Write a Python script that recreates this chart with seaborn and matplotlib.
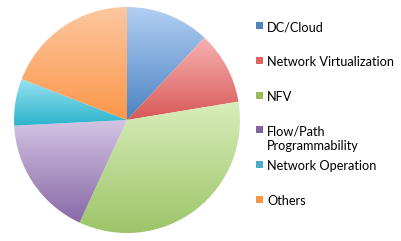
import numpy as np
import matplotlib
matplotlib.use("Agg")
import matplotlib.pyplot as plt
import seaborn as sns
from matplotlib.colors import LinearSegmentedColormap
from matplotlib.patches import Rectangle

categories = ["DC/Cloud", "Network Virtualization", "NFV",
              "Flow/Path\nProgrammability", "Network Operation", "Others"]
values = [12.0, 10.4, 34.5, 17.3, 6.7, 19.1]
top_colors = ["#b2cff3", "#f8b2b2", "#d8eebb", "#d2c4e3", "#97e2f2", "#fdc7a0"]
bottom_colors = ["#4a83c2", "#d75858", "#9cc468", "#8868a6", "#2cb3ca", "#fb974a"]
legend_colors = ["#4f81bd", "#e06666", "#9bbb59", "#8064a2", "#4bacc6", "#f79646"]

sns.set_theme(style="white")
plt.rcParams['font.family'] = ['Lato', 'DejaVu Sans']

W, H = 401, 241
fig = plt.figure(figsize=(W / 100, H / 100), dpi=100)
ax = fig.add_axes([14 / W, 8 / H, 226 / W, 226 / H])

wedges, _ = ax.pie(values, startangle=90, counterclock=False, radius=1.0,
                   colors=legend_colors, wedgeprops=dict(linewidth=0))
ax.set_xlim(-1, 1)
ax.set_ylim(-1, 1)
ax.set_aspect("equal")
ax.axis("off")

grad = np.linspace(0, 1, 256).reshape(-1, 1)
for w, ct, cb in zip(wedges, top_colors, bottom_colors):
    verts = w.get_path().vertices
    verts = w.get_patch_transform().transform(verts)
    y0, y1 = verts[:, 1].min(), verts[:, 1].max()
    cmap = LinearSegmentedColormap.from_list("g", [cb, ct])
    im = ax.imshow(grad, cmap=cmap, extent=(-1, 1, y0, y1), origin="lower",
                   aspect="auto", zorder=2)
    im.set_clip_path(w)
    w.set_alpha(0)
ax.set_xlim(-1, 1)
ax.set_ylim(-1, 1)

# legend (Excel-style, manual)
text_y = [28, 63, 98, 132, 167, 202]
for lab, col, ty in zip(categories, legend_colors, text_y):
    fig.patches.append(Rectangle((256 / W, 1 - (ty + 1) / H), 7 / W, 7 / H,
                                 transform=fig.transFigure, facecolor=col,
                                 edgecolor="none"))
    fig.text(267 / W, 1 - (ty - 7) / H, lab, ha="left", va="top",
             fontsize=9.2, color="#000000", linespacing=1.25)

fig.savefig("out.png", dpi=100)
